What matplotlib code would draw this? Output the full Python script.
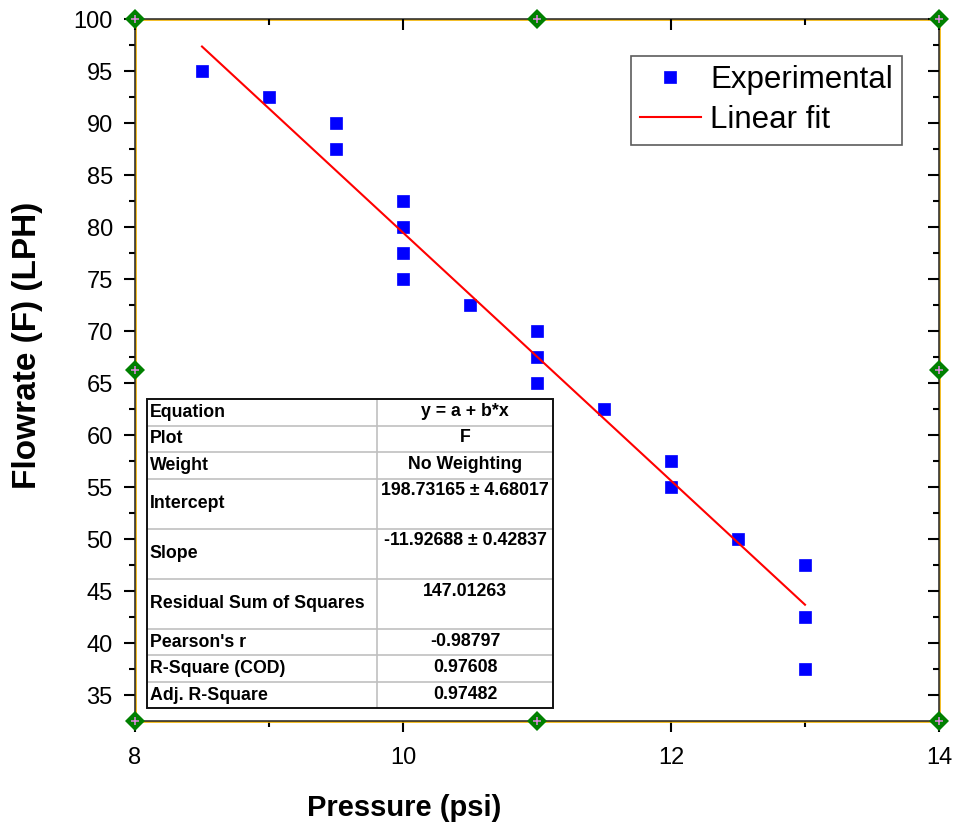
import matplotlib
matplotlib.use('Agg')
import matplotlib.pyplot as plt
import matplotlib.transforms as mtrans
from matplotlib.patches import Rectangle
import numpy as np

plt.rcParams['font.family'] = ['Liberation Sans', 'DejaVu Sans']

# ---------------- data ----------------
pressure = [8.5, 9.0, 9.5, 9.5, 10.0, 10.0, 10.0, 10.0, 10.5, 11.0, 11.0, 11.0,
            11.5, 12.0, 12.0, 12.5, 13.0, 13.0, 13.0]
flowrate = [95.0, 92.5, 90.0, 87.5, 82.5, 80.0, 77.5, 75.0, 72.5, 70.0, 67.5, 65.0,
            62.5, 57.5, 55.0, 50.0, 47.5, 42.5, 37.5]
fit_intercept = 198.73165
fit_slope = -11.92688

x_major_ticks = [8, 10, 12, 14]
x_minor_ticks = [9, 11, 13]
y_major_ticks = list(range(35, 101, 5))
y_minor_ticks = [37.5 + 5 * i for i in range(13)]

table_labels = ["Equation", "Plot", "Weight", "Intercept", "Slope",
                "Residual Sum of Squares", "Pearson's r", "R-Square (COD)",
                "Adj. R-Square"]
table_values = ["y = a + b*x", "F", "No Weighting", "198.73165 \u00b1 4.68017",
                "-11.92688 \u00b1 0.42837", "147.01263", "-0.98797", "0.97608",
                "0.97482"]
row_units = [1, 1, 1, 1.9, 1.9, 1.9, 1, 1, 1]

# ---------------- figure ----------------
W, H = 955, 831
fig = plt.figure(figsize=(W / 100, H / 100), dpi=100)
pos = [135 / W, 1 - 721 / H, 804 / W, 702 / H]
ax = fig.add_axes(pos)
xlim = (8, 14)
ylim = (32.5, 100)
ax.set_xlim(*xlim)
ax.set_ylim(*ylim)

ax.plot(pressure, flowrate, 's', color='#0000FF', ms=9, mec='#0000FF', mew=0.5,
        label='Experimental', zorder=3)
xf = np.array([min(pressure), max(pressure)])
ax.plot(xf, fit_intercept + fit_slope * xf, color='#FF0000', lw=1.5,
        label='Linear fit', zorder=4)

ax.set_xticks(x_major_ticks)
ax.set_xticks(x_minor_ticks, minor=True)
ax.set_yticks(y_major_ticks)
ax.set_yticks(y_minor_ticks, minor=True)
ax.tick_params(which='major', direction='out', length=8, width=1.5, labelsize=17,
               top=False, right=False)
ax.tick_params(which='minor', direction='out', length=4.5, width=1.5,
               top=False, right=False)
ax.tick_params(axis='x', which='major', pad=11)
ax.tick_params(axis='y', which='major', pad=8)

for s in ax.spines.values():
    s.set_color('#222222')
    s.set_linewidth(1.1)
    s.set_zorder(2.6)

# yellow inner frame (shifted)
off = mtrans.ScaledTranslation(1.2 / 100, -1.2 / 100, fig.dpi_scale_trans)
ax.add_patch(Rectangle((0, 0), 1, 1, transform=ax.transAxes + off, fill=False,
                       edgecolor='#F2B300', lw=1.2, clip_on=False, zorder=2.4))

# top/right inward ticks via overlay axes
ax2 = fig.add_axes(pos, frameon=False)
ax2.set_xlim(*xlim)
ax2.set_ylim(*ylim)
ax2.xaxis.tick_top()
ax2.yaxis.tick_right()
ax2.set_xticks(x_major_ticks)
ax2.set_xticks(x_minor_ticks, minor=True)
ax2.set_yticks(y_major_ticks)
ax2.set_yticks(y_minor_ticks, minor=True)
ax2.tick_params(which='major', direction='in', length=8, width=1.5,
                labeltop=False, labelright=False)
ax2.tick_params(which='minor', direction='in', length=4.5, width=1.5)
ax2.patch.set_visible(False)

# green anchor diamonds (on overlay so they sit above ticks)
xm = (xlim[0] + xlim[1]) / 2
ym = (ylim[0] + ylim[1]) / 2
dx = [xlim[0], xm, xlim[1], xlim[0], xm, xlim[1], xlim[0], xlim[1]]
dy = [ylim[0], ylim[0], ylim[0], ylim[1], ylim[1], ylim[1], ym, ym]
ax2.plot(dx, dy, 'D', color='#008000', ms=10, mew=0, clip_on=False, zorder=10)
ax2.plot(dx, dy, '+', color='#E58AE5', ms=6, mew=1.1, clip_on=False, zorder=11)

# labels
ax.set_xlabel('Pressure (psi)', fontsize=21, fontweight='bold', va='center')
ax.xaxis.set_label_coords((404 - 135) / 804, -(808 - 721) / 702)
ax.set_ylabel('Flowrate (F) (LPH)', fontsize=24, fontweight='bold', va='center')
ax.yaxis.set_label_coords((27 - 135) / 804, (721 - 345) / 702)

leg = ax.legend(loc='upper right', bbox_to_anchor=((902 - 135) / 804, (721 - 56) / 702),
                fontsize=22.5, frameon=True, fancybox=False, edgecolor='#333333',
                borderpad=0.3, labelspacing=0.32, handlelength=1.95,
                handletextpad=0.29, borderaxespad=0, numpoints=1)
leg.get_frame().set_linewidth(1.2)

# ---------------- statistics table ----------------
tx0, ty0, tx1, ty1 = 146.7, 399.3, 553.0, 708.3
tab = fig.add_axes([tx0 / W, 1 - ty1 / H, (tx1 - tx0) / W, (ty1 - ty0) / H])
tw, th = tx1 - tx0, ty1 - ty0
tab.set_xlim(0, tw)
tab.set_ylim(th, 0)
tab.axis('off')
tab.add_patch(Rectangle((0, 0), tw, th, facecolor='white', edgecolor='none', zorder=0))
unit = th / sum(row_units)
col_split = 377 - tx0
single = unit
y = 0.0
for i, (lab, val, u) in enumerate(zip(table_labels, table_values, row_units)):
    h = u * unit
    tab.text(3, y + h / 2, lab, ha='left', va='center', fontsize=12.8,
             fontweight='bold', zorder=3)
    tab.text((col_split + tw) / 2, y + single / 2 - 1, val, ha='center', va='center',
             fontsize=12.8, fontweight='bold', zorder=3)
    y += h
    if i < len(table_labels) - 1:
        tab.plot([0, tw], [y, y], color='#C0C0C0', lw=1.2, zorder=1)
tab.plot([col_split, col_split], [0, th], color='#C0C0C0', lw=1.2, zorder=1)
tab.add_patch(Rectangle((0, 0), tw, th, fill=False, edgecolor='#111111', lw=1.4,
                        zorder=4, clip_on=False))

fig.savefig('out.png', dpi=100)
